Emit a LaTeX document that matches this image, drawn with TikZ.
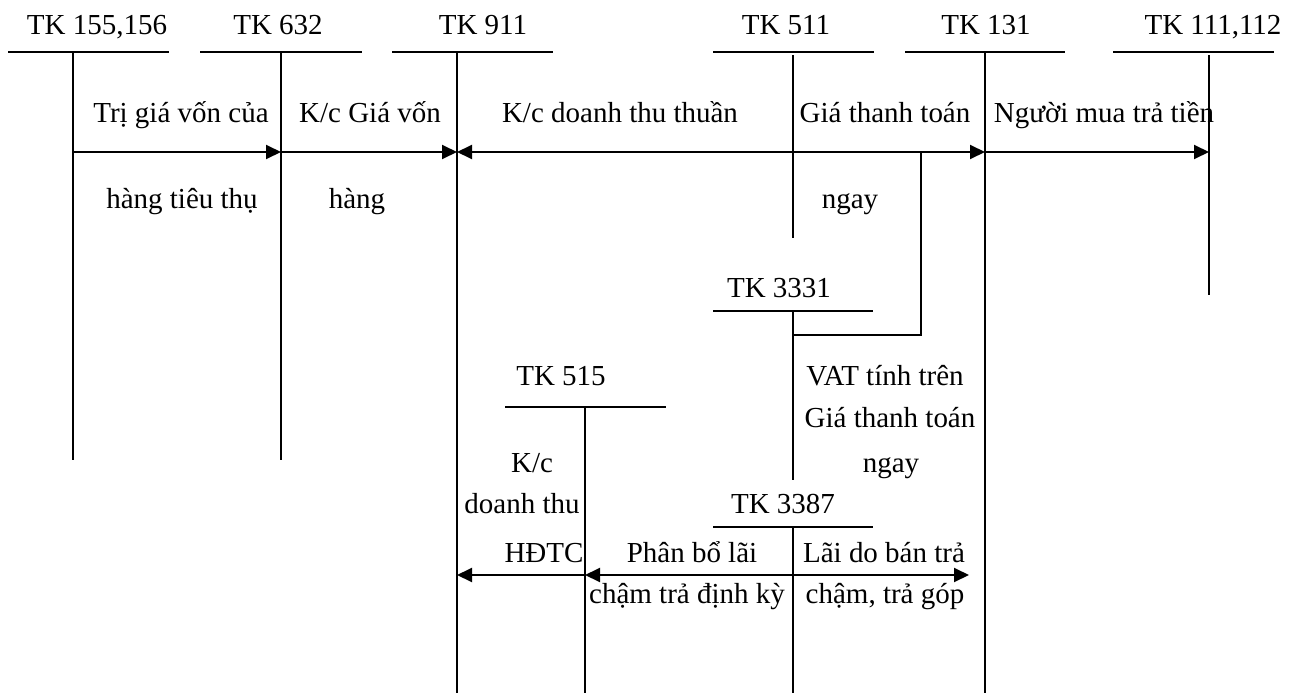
\documentclass[tikz,border=0pt]{standalone}
\usepackage{fontspec}
\setmainfont{Liberation Serif}
\usetikzlibrary{arrows.meta, calc}

\begin{document}
\begin{tikzpicture}[
    x=0.02cm, y=-0.02cm,
    acct/.style={inner sep=0pt, text height=11.5pt, text depth=4.1pt, font=\fontsize{16.5}{20}\selectfont},
    note/.style={inner sep=0pt, text height=11.5pt, text depth=4.1pt, font=\fontsize{16.5}{20}\selectfont},
    tline/.style={line width=1.1pt},
    arrow/.style={-{Triangle[length=0.3cm, width=0.28cm]}, line width=1.1pt},
    darrow/.style={{Triangle[length=0.3cm, width=0.28cm]}-{Triangle[length=0.3cm, width=0.28cm]}, line width=1.1pt}
  ]
  \useasboundingbox (0,0) rectangle (1299,693);

  \node[acct] (tk155) at (97,27.5) {TK 155,156};
  \node[acct] (tk632) at (278,27.5) {TK 632};
  \node[acct] (tk911) at (483,27.5) {TK 911};
  \node[acct] (tk511) at (786,27.5) {TK 511};
  \node[acct] (tk131) at (986,27.5) {TK 131};
  \node[acct] (tk111) at (1213,27.5) {TK 111,112};
  \node[acct] (tk3331) at (779,290.5) {TK 3331};
  \node[acct] (tk515) at (561,378.5) {TK 515};
  \node[acct] (tk3387) at (783,506.5) {TK 3387};

  \draw[tline] (8,52) -- (169,52);
  \draw[tline] (200,52) -- (362,52);
  \draw[tline] (392,52) -- (553,52);
  \draw[tline] (713,52) -- (874,52);
  \draw[tline] (905,52) -- (1065,52);
  \draw[tline] (1113,52) -- (1274,52);
  \draw[tline] (713,311) -- (873,311);
  \draw[tline] (505,407) -- (666,407);
  \draw[tline] (713,527) -- (873,527);

  \draw[tline] (73,52) coordinate (c155) -- (73,460);
  \draw[tline] (281,52) coordinate (c632) -- (281,460);
  \draw[tline] (457,52) coordinate (c911) -- (457,693);
  \draw[tline] (793,55) coordinate (c511) -- (793,238);
  \draw[tline] (985,52) coordinate (c131) -- (985,693);
  \draw[tline] (1209,55) coordinate (c111) -- (1209,295);
  \draw[tline] (793,311) coordinate (c3331) -- (793,480);
  \draw[tline] (585,407) coordinate (c515) -- (585,693);
  \draw[tline] (793,527) coordinate (c3387) -- (793,693);

  \coordinate (r1) at (0,152);
  \coordinate (r2) at (0,335);
  \coordinate (r3) at (0,575);
  \coordinate (knee) at (921,335);
  \coordinate (tip) at (969,575);

  \draw[arrow] (c155 |- r1) -- (c632 |- r1);
  \draw[arrow] (c632 |- r1) -- (c911 |- r1);
  \draw[darrow] (c911 |- r1) -- (c131 |- r1);
  \draw[arrow] (c131 |- r1) -- (c111 |- r1);
  \draw[tline] (c3331 |- r2) -- (knee) -- (knee |- r1);
  \draw[arrow] (c515 |- r3) -- (c911 |- r3);
  \draw[darrow] (c515 |- r3) -- (tip);

  \node[note] (n1) at (181,115.5) {Trị giá vốn của};
  \node[note] (n2) at (182,201.5) {hàng tiêu thụ};
  \node[note] (n3) at (370,115.5) {K/c Giá vốn};
  \node[note] (n4) at (357,201.5) {hàng};
  \node[note] (n5) at (620,115.5) {K/c doanh thu thuần};
  \node[note] (n6) at (885,115.5) {Giá thanh toán};
  \node[note] (n7) at (850,201.5) {ngay};
  \node[note] (n8) at (1104,115.5) {Người mua trả tiền};
  \node[note] (n9) at (885,378.5) {VAT tính trên};
  \node[note] (n10) at (890,420.5) {Giá thanh toán};
  \node[note] (n11) at (891,465.5) {ngay};
  \node[note] (n12) at (532,465.5) {K/c};
  \node[note] (n13) at (522,506.5) {doanh thu};
  \node[note] (n14) at (544,555.5) {HĐTC};
  \node[note] (n15) at (692,555.5) {Phân bổ lãi};
  \node[note] (n16) at (884,555.5) {Lãi do bán trả};
  \node[note] (n17) at (687,596.5) {chậm trả định kỳ};
  \node[note] (n18) at (885,596.5) {chậm, trả góp};
\end{tikzpicture}
\end{document}
